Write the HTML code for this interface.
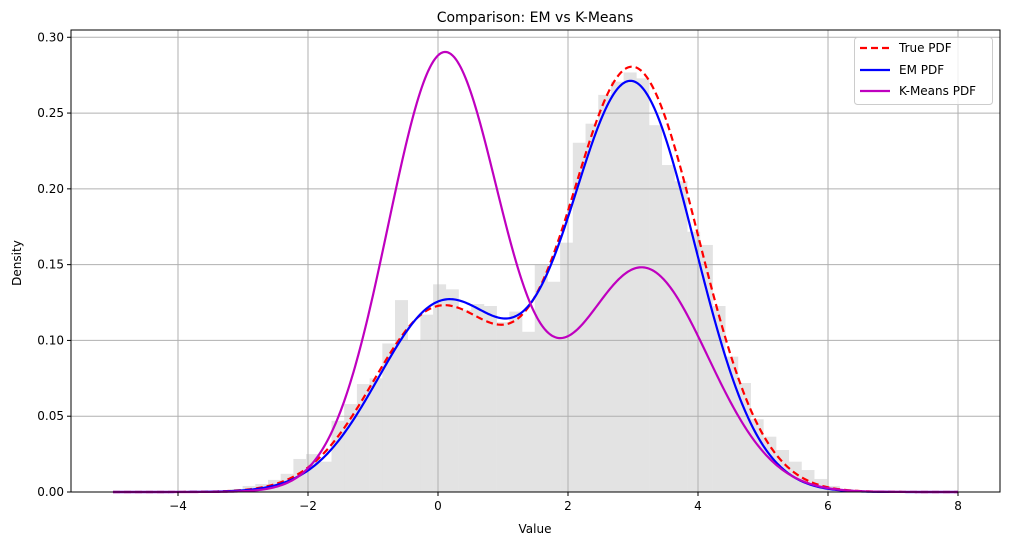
<!DOCTYPE html>
<html><head><meta charset="utf-8"><style>
body{margin:0;background:#fff;}
svg text{font-family:"DejaVu Sans","Liberation Sans",sans-serif;}
</style></head><body>
<svg id="chart" width="1010" height="545" viewBox="0 0 1010 545">
<rect x="0" y="0" width="1010" height="545" fill="#fff"/>
<text x="535" y="22" font-size="14" text-anchor="middle">Comparison: EM vs K-Means</text>
<g id="hist"></g><g id="grid"></g><g id="curves"></g><g id="axes"></g>
<text x="535" y="533" font-size="12" text-anchor="middle">Value</text>
<text x="21" y="263" font-size="12" text-anchor="middle" transform="rotate(-90 21 263)">Density</text>
<g>
<rect x="854.5" y="37.5" width="138" height="67" rx="3" fill="#fff" fill-opacity="0.8" stroke="#ccc"/>
<line x1="860" y1="48" x2="890" y2="48" stroke="#f00" stroke-width="2.2" stroke-dasharray="7,4"/>
<text x="899" y="52" font-size="12">True PDF</text>
<line x1="860" y1="70" x2="890" y2="70" stroke="#00f" stroke-width="2.2"/>
<text x="899" y="74" font-size="12">EM PDF</text>
<line x1="860" y1="91" x2="890" y2="91" stroke="#bf00bf" stroke-width="2.2"/>
<text x="899" y="95" font-size="12">K-Means PDF</text>
</g>
</svg>
<script>
const binStart = -3.2015;
const binWidth = 0.1954;
const binHeights = [0.002,0.004,0.0053,0.008,0.012,0.0218,0.025,0.020,0.047,0.058,0.0712,0.075,0.098,
0.1266,0.100,0.117,0.137,0.1337,0.120,0.124,0.1227,0.112,0.119,0.1057,0.150,0.1387,0.1645,0.2304,0.243,0.262,
0.2707,0.2768,0.2729,0.242,0.2157,0.205,0.1717,0.163,0.1227,0.0893,0.0719,0.048,0.0365,0.0277,0.020,0.0145,0.0086,0.004,0.002];
const trueW = [0.3,0.7], trueMu = [0.0,3.0], trueSd = [1.0,1.0];
const emW = [0.31,0.655], emMu = [0.08,2.98], emSd = [1.0,0.97];
const kmW = [0.63,0.37], kmMu = [0.1,3.15], kmSd = [0.87,1.0];
const xTicks = [-4,-2,0,2,4,6,8];
const yTicks = [0,0.05,0.10,0.15,0.20,0.25,0.30];
const xDomain = [-5.646,8.646], yDomain = [0,0.3048];
const L=71,R=1000,T=30,B=492;
const sx = v => L + (v-xDomain[0])/(xDomain[1]-xDomain[0])*(R-L);
const sy = v => B - (v-yDomain[0])/(yDomain[1]-yDomain[0])*(B-T);
const NS="http://www.w3.org/2000/svg";
function mk(tag,parent,attrs){const e=document.createElementNS(NS,tag);for(const k in attrs)e.setAttribute(k,attrs[k]);parent.appendChild(e);return e;}
const hist=document.getElementById('hist');
binHeights.forEach((h,i)=>{
  const x0=sx(binStart+i*binWidth), x1=sx(binStart+(i+1)*binWidth);
  const r=mk('rect',hist,{x:x0,y:sy(h),width:x1-x0+0.3,height:sy(0)-sy(h),fill:'#e3e3e3'});
  
  
});
const grid=document.getElementById('grid'), axes=document.getElementById('axes');
xTicks.forEach(t=>{
  const x=sx(t);
  const g=mk('line',grid,{x1:x,x2:x,y1:T,y2:B,stroke:'#b0b0b0','stroke-width':1});
  
  
  mk('line',axes,{x1:x,x2:x,y1:B,y2:B+4,stroke:'#000'});
  const tx=mk('text',axes,{x:x,y:B+18,'font-size':12,'text-anchor':'middle'});
  tx.textContent=(t<0?'\u2212'+(-t):t);
  
  
});
yTicks.forEach(t=>{
  const y=sy(t);
  const g=mk('line',grid,{x1:L,x2:R,y1:y,y2:y,stroke:'#b0b0b0','stroke-width':1});
  
  
  mk('line',axes,{x1:L-4,x2:L,y1:y,y2:y,stroke:'#000'});
  const tx=mk('text',axes,{x:L-7,y:y+4,'font-size':12,'text-anchor':'end'});
  tx.textContent=t.toFixed(2);
  
  
});
const fr=mk('rect',axes,{x:L,y:T,width:R-L,height:B-T,fill:'none',stroke:'#000','stroke-width':1});


function mix(x,w,m,s){let v=0;for(let i=0;i<w.length;i++)v+=w[i]*Math.exp(-0.5*((x-m[i])/s[i])**2)/(s[i]*Math.sqrt(2*Math.PI));return v;}
function path(w,m,s){let d='';for(let i=0;i<=520;i++){const x=-5+13*i/520;d+=(i?'L':'M')+sx(x).toFixed(2)+','+sy(mix(x,w,m,s)).toFixed(2);}return d;}
const curves=document.getElementById('curves');
const p1=mk('path',curves,{d:path(trueW,trueMu,trueSd),fill:'none',stroke:'#f00','stroke-width':2.2,'stroke-dasharray':'7,4'});


const p2=mk('path',curves,{d:path(emW,emMu,emSd),fill:'none',stroke:'#00f','stroke-width':2.2});


const p3=mk('path',curves,{d:path(kmW,kmMu,kmSd),fill:'none',stroke:'#bf00bf','stroke-width':2.2});


</script>
</body></html>
